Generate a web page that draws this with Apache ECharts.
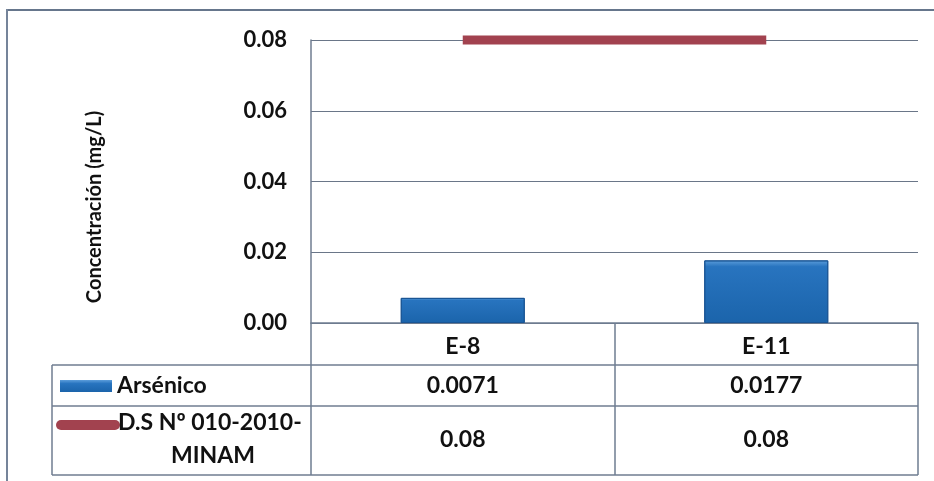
<!DOCTYPE html>
<html>
<head>
<meta charset="utf-8">
<script src="https://cdn.jsdelivr.net/npm/echarts@6/dist/echarts.min.js"></script>
<style>
  html, body { margin: 0; padding: 0; background: #fff; }
  #main { width: 934px; height: 481px; }
</style>
</head>
<body>
<div id="main"></div>
<script>
// datos del gráfico
const estaciones = ['E-8', 'E-11']
const arsenico = [0.0071, 0.0177]
const norma = [0.08, 0.08]
const etiquetasNorma = ['0.08', '0.08']
const etiquetasArsenico = ['0.0071', '0.0177']
const nombreArsenico = 'Arsénico'
const nombreNorma = ['D.S Nº 010-2010-', 'MINAM']

const borde = '#6f7d91'
const fuente = 'Lato'

const chart = echarts.init(document.querySelector('#main'))

chart.setOption({
  animation: false,
  title: {
    text: 'Gráfico Nº 3 - Arsénico',
    left: 482,
    top: -29,
    textAlign: 'center',
    textStyle: { fontFamily: fuente, fontSize: 28, fontWeight: 'bold', color: '#111' }
  },
  grid: { left: 311, right: 16, top: 40, bottom: 158 },
  xAxis: {
    type: 'category',
    data: estaciones,
    axisLine: { lineStyle: { color: borde, width: 1.5 } },
    axisTick: { show: true, length: 152, lineStyle: { color: borde, width: 1.5 } },
    axisLabel: { margin: 12, fontFamily: fuente, fontSize: 23, fontWeight: 'bold', color: '#111' }
  },
  yAxis: {
    type: 'value',
    min: 0,
    max: 0.08,
    interval: 0.02,
    axisLine: { show: true, lineStyle: { color: borde, width: 1.5 } },
    axisTick: { show: false },
    axisLabel: {
      margin: 24,
      fontFamily: fuente,
      fontSize: 22,
      fontWeight: 'bold',
      color: '#111',
      formatter: v => v.toFixed(2)
    },
    splitLine: { lineStyle: { color: '#6a7688', width: 1.2 } }
  },
  series: [
    {
      name: nombreArsenico,
      type: 'bar',
      data: arsenico,
      barWidth: 124,
      itemStyle: {
        color: new echarts.graphic.LinearGradient(0, 0, 0, 1, [
          { offset: 0, color: '#5c9ddb' },
          { offset: 0.1, color: '#2874bf' },
          { offset: 1, color: '#1b64ab' }
        ]),
        borderColor: '#1a5595',
        borderWidth: 1
      }
    },
    {
      name: 'D.S Nº 010-2010-MINAM',
      type: 'line',
      data: norma,
      symbol: 'none',
      clip: false,
      z: 5,
      lineStyle: { color: '#a2424f', width: 9 }
    }
  ]
})

// tabla de datos debajo del gráfico
function dibujarTabla() {
  const x0 = 52, xFin = 918
  const yFila1 = 365, yFila2 = 406, yFin = 475
  const texto = { fontFamily: fuente, fontSize: 23, fontWeight: 'bold', fill: '#111' }
  const linea = { stroke: borde, lineWidth: 1.5 }

  const elementos = [
    // marco exterior
    { type: 'rect', z: 100, shape: { x: 6, y: 9, width: 928, height: 2 }, style: { fill: '#66768c' } },
    { type: 'rect', z: 100, shape: { x: 6, y: 9, width: 2, height: 472 }, style: { fill: '#75849a' } },
    { type: 'line', shape: { x1: x0, y1: yFila1, x2: xFin, y2: yFila1 }, style: linea },
    { type: 'line', shape: { x1: x0, y1: yFila2, x2: xFin, y2: yFila2 }, style: linea },
    { type: 'line', shape: { x1: x0, y1: yFin, x2: xFin, y2: yFin }, style: linea },
    { type: 'line', shape: { x1: x0, y1: yFila1, x2: x0, y2: yFin }, style: linea },
    // leyenda de arsénico
    { type: 'rect', shape: { x: 60, y: 380, width: 52, height: 12 },
      style: { fill: new echarts.graphic.LinearGradient(0, 0, 0, 1, [
        { offset: 0, color: '#5c9ddb' }, { offset: 0.3, color: '#2874bf' }, { offset: 1, color: '#1b64ab' }
      ]) } },
    { type: 'text', x: 117, y: 386, style: Object.assign({ text: nombreArsenico, verticalAlign: 'middle' }, texto) },
    // leyenda de la norma
    { type: 'line', shape: { x1: 61, y1: 425, x2: 115, y2: 425 }, style: { stroke: '#a2424f', lineWidth: 10, lineCap: 'round' } },
    { type: 'text', x: 118, y: 423, style: Object.assign({ text: nombreNorma[0], verticalAlign: 'middle' }, texto) },
    { type: 'text', x: 213, y: 456, style: Object.assign({ text: nombreNorma[1], verticalAlign: 'middle', align: 'center' }, texto) },
    // título del eje y
    { type: 'text', x: 95, y: 207, rotation: Math.PI / 2,
      style: { text: 'Concentración (mg/L)', align: 'center', verticalAlign: 'middle', fontFamily: fuente, fontSize: 20, fontWeight: 'bold', fill: '#111' } }
  ]

  estaciones.forEach((est, i) => {
    const cx = chart.convertToPixel({ xAxisIndex: 0 }, est)
    elementos.push({ type: 'text', x: cx, y: 386, style: Object.assign({ text: etiquetasArsenico[i], align: 'center', verticalAlign: 'middle' }, texto) })
    elementos.push({ type: 'text', x: cx, y: 440, style: Object.assign({ text: etiquetasNorma[i], align: 'center', verticalAlign: 'middle' }, texto) })
  })

  chart.setOption({ graphic: elementos })
}

dibujarTabla()
</script>
</body>
</html>
